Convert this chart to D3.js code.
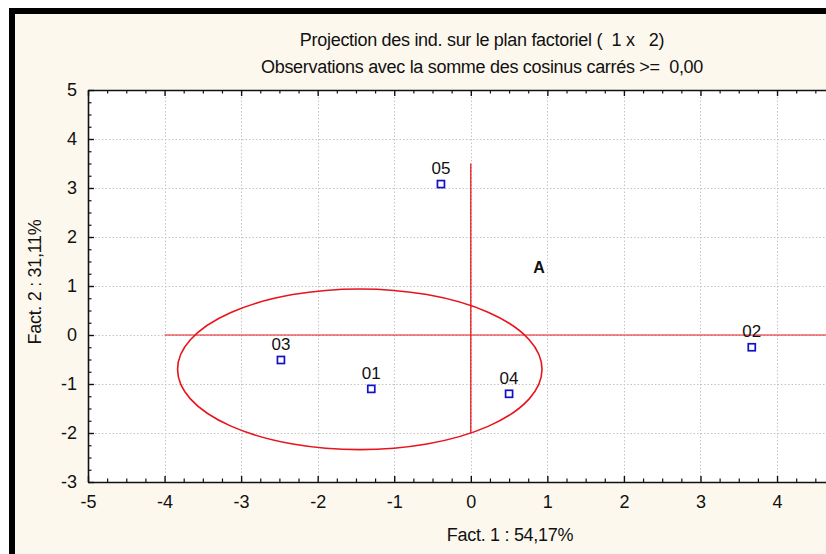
<!DOCTYPE html>
<html>
<head>
<meta charset="utf-8">
<script src="https://cdn.jsdelivr.net/npm/d3@7"></script>
<style>
  html, body { margin: 0; padding: 0; background: #ffffff; }
  svg { display: block; }
  text { font-family: "Liberation Sans", Arial, sans-serif; fill: #111; white-space: pre; }
</style>
</head>
<body>
<svg id="chart" width="826" height="554"></svg>
<script>
// Individuals projected on factor plane 1 x 2
const pointLabels = ["01", "02", "03", "04", "05"];
const fact1 = [-1.30, 3.67, -2.48, 0.50, -0.39];
const fact2 = [-1.10, -0.25, -0.51, -1.20, 3.08];

const xTicks = [-5, -4, -3, -2, -1, 0, 1, 2, 3, 4];
const yTicks = [-3, -2, -1, 0, 1, 2, 3, 4, 5];

const titleLines = [
  "Projection des ind. sur le plan factoriel (  1 x   2)",
  "Observations avec la somme des cosinus carrés >=  0,00"
];
const xTitle = "Fact. 1 : 54,17%";
const yTitle = "Fact. 2 : 31,11%";

// Annotation: group ellipse (center, radii in axis units), reference lines, letter
const groupEllipse = { cx: -1.45, cy: -0.70, rx: 2.38, ry: 1.64 };
const hLine = { y: 0, x1: -4, x2: 5 };
const vLine = { x: 0, y1: 3.5, y2: -2 };
const annotation = { text: "A", x: 0.89, y: 1.39 };

const svg = d3.select("#chart");

// Frame: black border on top/left, cream panel
svg.append("rect").attr("x", 9).attr("y", 8).attr("width", 830).attr("height", 560).attr("fill", "#000");
svg.append("rect").attr("x", 15).attr("y", 14).attr("width", 830).attr("height", 560).attr("fill", "#fdf8ee");

const plotLeft = 88, plotTop = 90, plotBottom = 482;
const x = d3.scaleLinear().domain([-5, 5]).range([plotLeft, plotLeft + 10 * 76.56]);
const y = d3.scaleLinear().domain([-3, 5]).range([plotBottom, plotTop]);
const plotRight = x(5);

// Plot area
svg.append("rect").attr("x", plotLeft).attr("y", plotTop)
  .attr("width", plotRight - plotLeft).attr("height", plotBottom - plotTop).attr("fill", "#fff");

// Dotted grid
const grid = svg.append("g").attr("stroke", "#c4c4c4").attr("stroke-width", 1).attr("stroke-dasharray", "1.5,2");
grid.selectAll("line.gx").data(xTicks.filter(d => d > -5)).join("line")
  .attr("x1", d => Math.round(x(d)) + 0.5).attr("x2", d => Math.round(x(d)) + 0.5)
  .attr("y1", plotTop).attr("y2", plotBottom);
grid.selectAll("line.gy").data(yTicks.filter(d => d > -3 && d < 5)).join("line")
  .attr("y1", d => Math.round(y(d)) + 0.5).attr("y2", d => Math.round(y(d)) + 0.5)
  .attr("x1", plotLeft).attr("x2", plotRight);

// Axes with inward major and minor ticks
const minorX = d3.range(-5, 5.001, 0.25).filter(v => Math.abs(v - Math.round(v)) > 1e-6);
const minorY = d3.range(-3, 5.001, 0.25).filter(v => Math.abs(v - Math.round(v)) > 1e-6);
const plainNum = d => String(d);

function styleAxis(g) {
  g.select(".domain").attr("stroke", "#111").attr("stroke-width", 1.6);
  g.selectAll(".tick line").attr("stroke", "#111").attr("stroke-width", 1.4);
  g.selectAll("text").attr("font-family", "Liberation Sans, Arial, sans-serif").attr("font-size", 18).attr("fill", "#111");
}
function styleMinor(g) {
  g.select(".domain").remove();
  g.selectAll("line").attr("stroke", "#111").attr("stroke-width", 1.2);
}

const xAxisB = svg.append("g").attr("transform", `translate(0,${plotBottom})`)
  .call(d3.axisBottom(x).tickValues(xTicks).tickSizeInner(-6).tickSizeOuter(0).tickPadding(13).tickFormat(plainNum));
styleAxis(xAxisB);
svg.append("g").attr("transform", `translate(0,${plotBottom})`)
  .call(d3.axisBottom(x).tickValues(minorX).tickSize(-3.5).tickFormat(""))
  .call(styleMinor);

const xAxisT = svg.append("g").attr("transform", `translate(0,${plotTop})`)
  .call(d3.axisTop(x).tickValues(xTicks).tickSizeInner(-6).tickSizeOuter(0).tickFormat(""));
styleAxis(xAxisT);
svg.append("g").attr("transform", `translate(0,${plotTop})`)
  .call(d3.axisTop(x).tickValues(minorX).tickSize(-3.5).tickFormat(""))
  .call(styleMinor);

const yAxisL = svg.append("g").attr("transform", `translate(${plotLeft},0)`)
  .call(d3.axisLeft(y).tickValues(yTicks).tickSizeInner(-6).tickSizeOuter(0).tickPadding(11).tickFormat(plainNum));
styleAxis(yAxisL);
svg.append("g").attr("transform", `translate(${plotLeft},0)`)
  .call(d3.axisLeft(y).tickValues(minorY).tickSize(-3.5).tickFormat(""))
  .call(styleMinor);

// Reference lines
svg.append("line").attr("x1", x(hLine.x1)).attr("x2", x(hLine.x2))
  .attr("y1", y(hLine.y)).attr("y2", y(hLine.y))
  .attr("stroke", "#e8141c").attr("stroke-width", 1);
svg.append("line").attr("x1", x(vLine.x)).attr("x2", x(vLine.x))
  .attr("y1", y(vLine.y1)).attr("y2", y(vLine.y2))
  .attr("stroke", "#e8141c").attr("stroke-width", 1.3);

// Group ellipse
svg.append("ellipse")
  .attr("cx", x(groupEllipse.cx)).attr("cy", y(groupEllipse.cy))
  .attr("rx", x(groupEllipse.rx) - x(0)).attr("ry", y(0) - y(groupEllipse.ry))
  .attr("fill", "none").attr("stroke", "#e8141c").attr("stroke-width", 1.6);

// Points and labels
const pts = pointLabels.map((l, i) => ({ label: l, fx: fact1[i], fy: fact2[i] }));
svg.append("g").selectAll("rect").data(pts).join("rect")
  .attr("x", d => x(d.fx) - 3.5).attr("y", d => y(d.fy) - 3.5)
  .attr("width", 7).attr("height", 7)
  .attr("fill", "#fff").attr("stroke", "#1010c8").attr("stroke-width", 1.7);
svg.append("g").selectAll("text").data(pts).join("text")
  .attr("x", d => x(d.fx)).attr("y", d => y(d.fy) - 10)
  .attr("text-anchor", "middle").attr("font-size", 17)
  .text(d => d.label);

// Annotation letter
svg.append("text").attr("x", x(annotation.x)).attr("y", y(annotation.y) + 6)
  .attr("text-anchor", "middle").attr("font-size", 16).attr("font-weight", "bold")
  .text(annotation.text);

// Titles
svg.selectAll("text.title").data(titleLines).join("text")
  .attr("class", "title")
  .attr("x", 482).attr("y", (d, i) => 46 + i * 27)
  .attr("text-anchor", "middle").attr("font-size", 18).attr("letter-spacing", "-0.3")
  .text(d => d);

// Axis titles
svg.append("text").attr("x", 510).attr("y", 541)
  .attr("text-anchor", "middle").attr("font-size", 18).attr("letter-spacing", "-0.3")
  .text(xTitle);
svg.append("text").attr("transform", "translate(41,282) rotate(-90)")
  .attr("text-anchor", "middle").attr("font-size", 18).attr("letter-spacing", "-0.3")
  .text(yTitle);
</script>
</body>
</html>
